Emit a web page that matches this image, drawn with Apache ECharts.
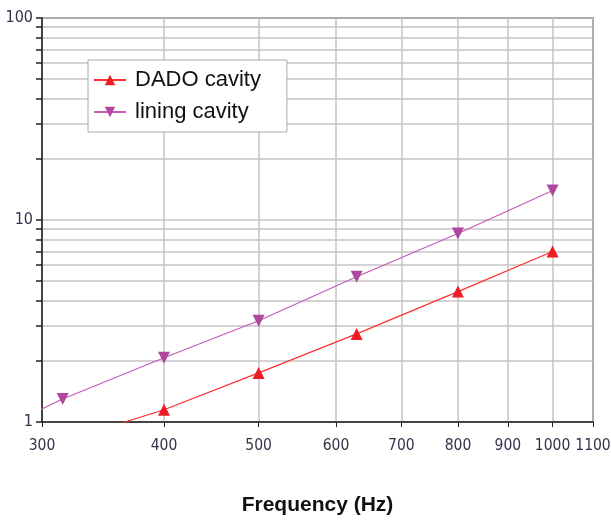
<!DOCTYPE html>
<html>
<head>
<meta charset="utf-8">
<script src="https://cdn.jsdelivr.net/npm/echarts@6/dist/echarts.min.js"></script>
<style>
  html, body { margin: 0; padding: 0; background: #fff; }
  #chart { width: 611px; height: 521px; }
</style>
</head>
<body>
<div id="chart"></div>
<script>
// frequencies (Hz)
const freqs = [250, 315, 400, 500, 630, 800, 1000]
// measured values per cavity (log scale)
const dadoValues = [null, 0.80, 1.15, 1.75, 2.73, 4.42, 6.98]
const liningValues = [0.76, 1.30, 2.08, 3.17, 5.24, 8.57, 14.0]

const xTicks = [300, 400, 500, 600, 700, 800, 900, 1000, 1100]
const yTicks = [1, 2, 3, 4, 5, 6, 7, 8, 9, 10, 20, 30, 40, 50, 60, 70, 80, 90, 100]
const yLabels = [1, 10, 100]

const toPairs = (vals) => freqs.map((f, i) => [f, vals[i]]).filter(p => p[1] != null)

const chart = echarts.init(document.getElementById('chart'))

const labelStyle = {
  color: '#33334a',
  fontFamily: 'DejaVu Sans Condensed',
  fontSize: 15.5,
  formatter: (v) => String(Math.round(v))
}

chart.setOption({
  animation: false,
  grid: {
    left: 42, right: 18, top: 18, bottom: 99,
    outerBoundsMode: 'none', containLabel: false,
    show: true, borderColor: '#333', borderWidth: 1.5
  },
  legend: {
    left: 88, top: 60,
    orient: 'vertical',
    backgroundColor: '#fff',
    borderColor: '#aaa',
    borderWidth: 1,
    borderRadius: 0,
    padding: [9, 26, 9, 5],
    itemWidth: 32, itemHeight: 13, itemGap: 10,
    textStyle: { fontFamily: 'Liberation Sans', fontSize: 22, color: '#111', padding: [0, 0, 0, 4] },
    data: ['DADO cavity', 'lining cavity']
  },
  xAxis: {
    type: 'log',
    min: 300, max: 1100,
    name: 'Frequency (Hz)',
    nameLocation: 'middle',
    nameGap: 73,
    nameTextStyle: { fontFamily: 'Liberation Sans', fontSize: 21, fontWeight: 'bold', color: '#111' },
    axisLine: { lineStyle: { color: '#222', width: 1.5 } },
    axisTick: { show: true, length: 5, customValues: xTicks, lineStyle: { color: '#222' } },
    axisLabel: { customValues: xTicks, margin: 16, ...labelStyle },
    splitLine: { show: true, lineStyle: { color: '#c4c4c4', width: 1.5 } }
  },
  yAxis: {
    type: 'log',
    min: 1, max: 100,
    axisLine: { show: true, lineStyle: { color: '#222', width: 1.5 } },
    axisTick: { show: true, length: 6, customValues: yTicks, lineStyle: { color: '#222', width: 1.5 } },
    axisLabel: { customValues: yLabels, margin: 9, ...labelStyle, fontSize: 16 },
    splitLine: { show: true, lineStyle: { color: '#c4c4c4', width: 1.5 } }
  },
  series: [
    {
      name: 'DADO cavity',
      type: 'line',
      data: toPairs(dadoValues),
      clip: true,
      symbol: 'triangle',
      symbolSize: 12,
      lineStyle: { color: '#ff3030', width: 1.2 },
      itemStyle: { color: '#ee1c25' }
    },
    {
      name: 'lining cavity',
      type: 'line',
      data: toPairs(liningValues),
      clip: true,
      symbol: 'triangle',
      symbolRotate: 180,
      symbolSize: 12,
      lineStyle: { color: '#c45ab8', width: 1.2 },
      itemStyle: { color: '#b0479f' }
    }
  ]
})
</script>
</body>
</html>
